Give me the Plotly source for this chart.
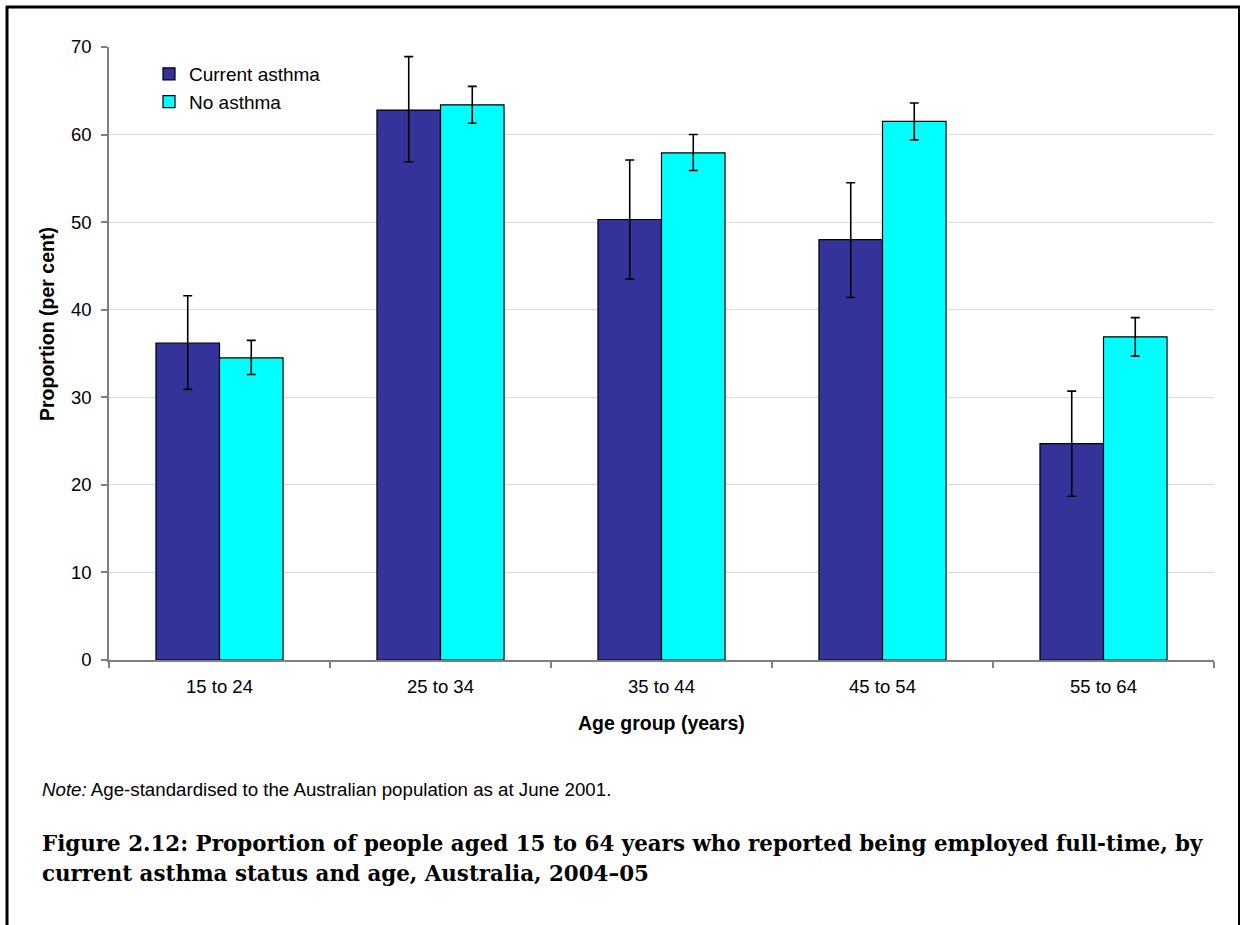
import plotly.graph_objects as go

# Age groups and full-time employment proportions (per cent)
age_groups = ["15 to 24", "25 to 34", "35 to 44", "45 to 54", "55 to 64"]

current_asthma = [36.2, 62.8, 50.3, 48.0, 24.7]
current_err_plus = [5.4, 6.1, 6.8, 6.5, 6.0]
current_err_minus = [5.3, 5.9, 6.8, 6.6, 6.0]

no_asthma = [34.5, 63.4, 57.9, 61.5, 36.9]
no_err_plus = [2.0, 2.1, 2.1, 2.1, 2.2]
no_err_minus = [1.9, 2.1, 2.0, 2.1, 2.2]

y_ticks = [0, 10, 20, 30, 40, 50, 60, 70]

FONT = "Liberation Sans, Arial, sans-serif"
SERIF = "DejaVu Serif, serif"

fig = go.Figure()
fig.add_trace(go.Bar(
    name="Current asthma", x=age_groups, y=current_asthma,
    marker=dict(color="#333399", line=dict(color="black", width=1.2)),
    error_y=dict(type="data", symmetric=False, array=current_err_plus,
                 arrayminus=current_err_minus, color="black",
                 thickness=1.6, width=4.5),
    legendgroup="a",
))
fig.add_trace(go.Bar(
    name="No asthma", x=age_groups, y=no_asthma,
    marker=dict(color="#00FFFF", line=dict(color="black", width=1.2)),
    error_y=dict(type="data", symmetric=False, array=no_err_plus,
                 arrayminus=no_err_minus, color="black",
                 thickness=1.6, width=4.5),
    legendgroup="b",
))

L, R, T, B = 109, 28, 47, 265
W, H = 1242, 925
pw, ph = W - L - R, H - T - B


def px(xp):
    return (xp - L) / pw


def py(yp):
    return (H - B - yp) / ph


fig.update_layout(
    width=W, height=H,
    margin=dict(l=L, r=R, t=T, b=B, pad=0),
    paper_bgcolor="white", plot_bgcolor="white",
    barmode="group", bargap=0.425, bargroupgap=0,
    font=dict(family=FONT, size=19, color="black"),
    showlegend=True,
    legend=dict(x=px(149), y=py(55), xanchor="left", yanchor="top",
                bgcolor="rgba(0,0,0,0)", font=dict(size=19),
                traceorder="grouped", tracegroupgap=0, itemwidth=30),
    xaxis=dict(
        showline=True, linecolor="#808080", linewidth=1.5,
        ticks="outside", ticklen=6, tickcolor="#808080", tickwidth=1.5,
        tickson="boundaries", showgrid=False, range=[-0.5, 4.5],
        tickfont=dict(size=18.5, color="black"), ticklabelstandoff=9,
    ),
    yaxis=dict(
        range=[0, 70], tickvals=y_ticks,
        showline=True, linecolor="#808080", linewidth=1.5,
        ticks="outside", ticklen=6, tickcolor="#808080", tickwidth=1.5,
        showgrid=True, gridcolor="#d9d9d9", gridwidth=1.2,
        zeroline=False, tickfont=dict(size=18.5, color="black"),
        ticklabelstandoff=6,
    ),
)

annotations = [
    dict(text="<b>Proportion (per cent)</b>", x=px(47), y=py(324),
         textangle=-90, font=dict(size=19.5, family=FONT)),
    dict(text="<b>Age group (years)</b>", x=px(661), y=py(723),
         font=dict(size=19.5, family=FONT)),
    dict(text="<i>Note:</i> Age-standardised to the Australian population as at June 2001.",
         x=px(40), y=py(789), xanchor="left", font=dict(size=18.7, family=FONT)),
    dict(text="<b>Figure 2.12: Proportion of people aged 15 to 64 years who reported being employed full-time, by</b>",
         x=px(40), y=py(843), xanchor="left", font=dict(size=21.4, family=SERIF)),
    dict(text="<b>current asthma status and age, Australia, 2004\u201305</b>",
         x=px(40), y=py(873), xanchor="left", font=dict(size=21.4, family=SERIF)),
]
for a in annotations:
    a.update(xref="paper", yref="paper", showarrow=False, yanchor="middle")
    a.setdefault("xanchor", "center")
    fig.add_annotation(**a)

# Frame around the figure (left, top and right edges)
frame = [
    (px(7), py(6), px(7), py(940), 3),
    (px(6), py(7), px(1240), py(7), 3),
    (px(1239), py(6), px(1239), py(940), 2),
]
for x0, y0, x1, y1, w in frame:
    fig.add_shape(type="line", xref="paper", yref="paper", x0=x0, y0=y0,
                  x1=x1, y1=y1, line=dict(color="black", width=w))

fig.write_html("out.html")
